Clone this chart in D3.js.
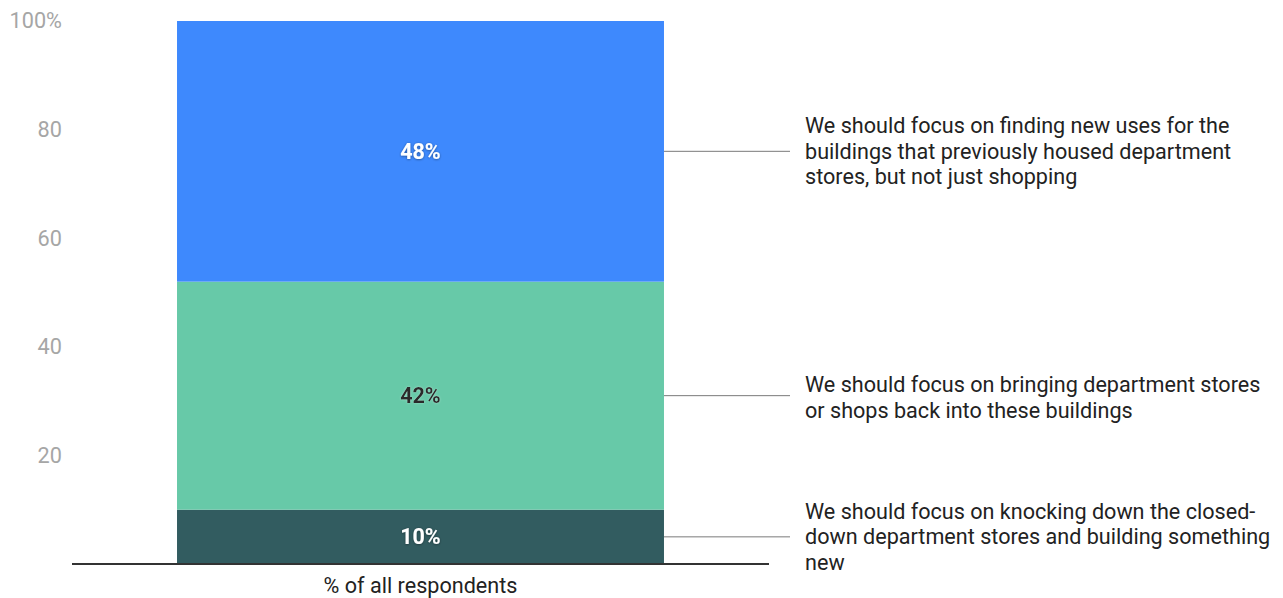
<!DOCTYPE html>
<html>
<head>
<meta charset="utf-8">
<script src="https://cdn.jsdelivr.net/npm/d3@7/dist/d3.min.js"></script>
<style>
  html, body { margin: 0; padding: 0; background: #fff; }
  svg { display: block; font-family: Roboto, "Noto Sans", sans-serif; }
</style>
</head>
<body>
<svg id="chart" width="1283" height="598"></svg>
<script>
// Stacked shares, bottom to top
const categories = ["% of all respondents"];
const segmentNames = ["knock_down", "shops_back", "new_uses"];
const segmentValues = [10, 42, 48];
const segmentColors = ["#325c60", "#67c9a8", "#3e89fd"];
const segmentTextColors = ["#ffffff", "#2b2b2b", "#ffffff"];
const segmentLabelLines = [
  ["We should focus on knocking down the closed-", "down department stores and building something", "new"],
  ["We should focus on bringing department stores", "or shops back into these buildings"],
  ["We should focus on finding new uses for the", "buildings that previously housed department", "stores, but not just shopping"]
];
const yTicks = [20, 40, 60, 80, 100];

const svg = d3.select("#chart");

const x = d3.scaleBand()
  .domain(categories)
  .range([72, 769])
  .padding(0.1774);

const y = d3.scaleLinear()
  .domain([0, 100])
  .range([564, 21]);

// Build stacked segments
let acc = 0;
const segments = segmentValues.map((v, i) => {
  const s = { name: segmentNames[i], value: v, y0: acc, y1: acc + v, color: segmentColors[i],
              textColor: segmentTextColors[i], lines: segmentLabelLines[i] };
  acc += v;
  return s;
});

// Y axis (labels only)
const yAxis = d3.axisLeft(y)
  .tickValues(yTicks)
  .tickSize(0)
  .tickPadding(0)
  .tickFormat(d => d === 100 ? "100%" : d);

const yg = svg.append("g")
  .attr("transform", "translate(62,0)")
  .call(yAxis);
yg.select(".domain").remove();
yg.selectAll("text")
  .attr("fill", "#a6a6a6")
  .attr("font-size", 21.7)
  .attr("font-family", "Roboto, sans-serif");

// Bars
const cat = categories[0];
svg.append("g").selectAll("rect")
  .data(segments)
  .join("rect")
  .attr("x", x(cat))
  .attr("width", x.bandwidth())
  .attr("y", d => y(d.y1))
  .attr("height", d => y(d.y0) - y(d.y1))
  .attr("fill", d => d.color);

// Value labels inside the bars: light text gets a dark halo, dark text a light one
const defs = svg.append("defs");
const fDark = defs.append("filter").attr("id", "haloDark").attr("x", "-20%").attr("y", "-40%").attr("width", "140%").attr("height", "180%");
fDark.append("feDropShadow").attr("dx", 0).attr("dy", 0.5).attr("stdDeviation", 1).attr("flood-color", "#000").attr("flood-opacity", 0.45);
const fLight = defs.append("filter").attr("id", "haloLight").attr("x", "-20%").attr("y", "-40%").attr("width", "140%").attr("height", "180%");
fLight.append("feDropShadow").attr("dx", 0).attr("dy", 0).attr("stdDeviation", 1.2).attr("flood-color", "#fff").attr("flood-opacity", 0.35);

svg.append("g").selectAll("text")
  .data(segments)
  .join("text")
  .attr("x", x(cat) + x.bandwidth() / 2)
  .attr("y", d => y((d.y0 + d.y1) / 2))
  .attr("dy", "0.35em")
  .attr("text-anchor", "middle")
  .attr("fill", d => d.textColor)
  .attr("font-weight", 700)
  .attr("font-size", 21.5)
  .attr("filter", d => d.textColor === "#ffffff" ? "url(#haloDark)" : "url(#haloLight)")
  .text(d => d.value + "%");

// Leader lines and annotation text
const leaderStart = x(cat) + x.bandwidth();
svg.append("g").selectAll("line")
  .data(segments)
  .join("line")
  .attr("x1", leaderStart)
  .attr("x2", 790)
  .attr("y1", d => y((d.y0 + d.y1) / 2))
  .attr("y2", d => y((d.y0 + d.y1) / 2))
  .attr("stroke", "#7a7a7a")
  .attr("stroke-width", 1);

const lineHeight = 25.5;
const notes = svg.append("g").selectAll("text")
  .data(segments)
  .join("text")
  .attr("font-size", 21.6)
  .attr("fill", "#222")
  .attr("x", 805);
notes.each(function(d) {
  const t = d3.select(this);
  const cy = y((d.y0 + d.y1) / 2);
  const n = d.lines.length;
  // 3-line blocks sit with their middle line on the leader; 2-line blocks hang from it
  const firstY = n === 3 ? cy - lineHeight : cy - lineHeight / 2 + 2;
  d.lines.forEach((ln, i) => {
    t.append("tspan")
      .attr("x", 805)
      .attr("y", firstY + i * lineHeight)
      .attr("dy", "0.35em")
      .text(ln);
  });
});

// Baseline and category label
const xAxis = d3.axisBottom(x).tickSize(0).tickPadding(14);
const xg = svg.append("g")
  .attr("transform", "translate(0,564)")
  .call(xAxis);
xg.select(".domain").attr("stroke", "#333").attr("stroke-width", 2).attr("d", "M72,0H769");
xg.selectAll("text")
  .attr("fill", "#222")
  .attr("font-size", 21.6)
  .attr("font-family", "Roboto, sans-serif");
</script>
</body>
</html>
